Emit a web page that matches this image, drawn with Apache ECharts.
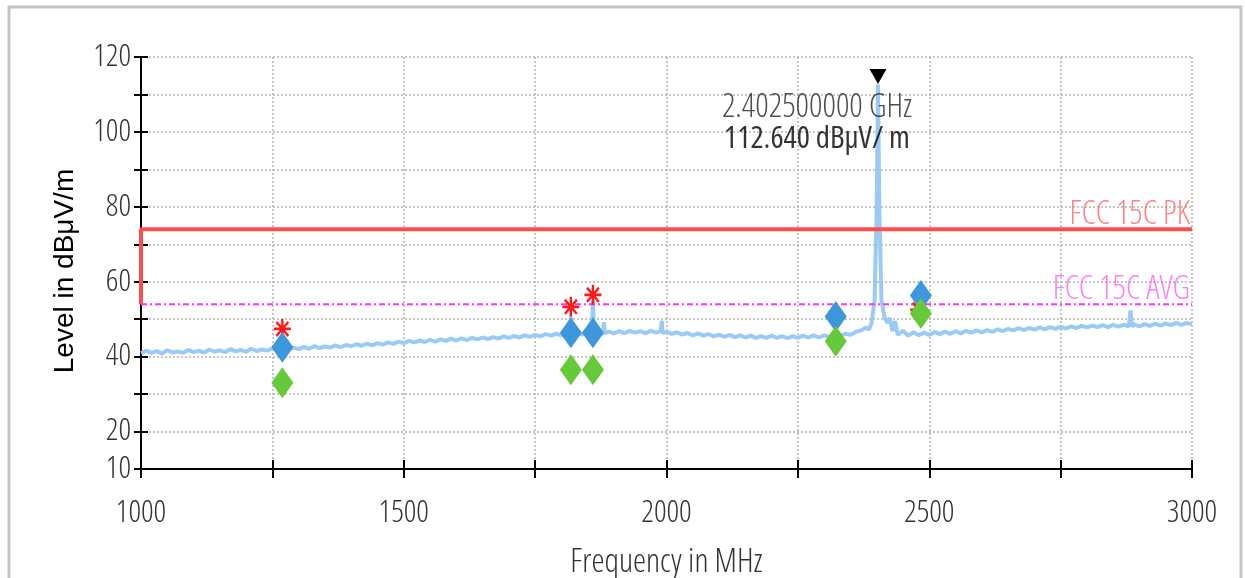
<!DOCTYPE html>
<html>
<head>
<meta charset="utf-8">
<script src="https://cdn.jsdelivr.net/npm/echarts@6/dist/echarts.min.js"></script>
<style>
html,body{margin:0;padding:0;background:#fff;}
#chart{width:1245px;height:578px;}
</style>
</head>
<body>
<div id="chart"></div>
<script>
// ---- data ----
const trace = [
[1000,40.9],[1010,41.6],[1020,41.0],[1030,41.5],[1040,40.8],[1050,41.7],[1060,41.1],[1070,41.4],[1080,41.0],[1090,41.8],
[1100,41.2],[1110,41.6],[1120,41.1],[1130,41.9],[1140,41.3],[1150,41.7],[1160,41.2],[1170,42.0],[1180,41.4],[1190,41.8],
[1200,41.3],[1210,42.1],[1220,41.5],[1230,41.9],[1240,41.6],[1250,42.2],[1260,41.7],[1270,42.6],[1280,41.9],[1290,42.4],
[1300,42.0],[1310,42.6],[1320,42.1],[1330,42.8],[1340,42.3],[1350,42.7],[1360,42.4],[1370,43.0],[1380,42.5],[1390,43.1],
[1400,42.8],[1410,43.3],[1420,42.9],[1430,43.5],[1440,43.0],[1450,43.6],[1460,43.2],[1470,43.8],[1480,43.4],[1490,44.0],
[1500,43.6],[1510,44.2],[1520,43.8],[1530,44.3],[1540,43.9],[1550,44.5],[1560,44.0],[1570,44.6],[1580,44.2],[1590,44.8],
[1600,44.3],[1610,44.9],[1620,44.4],[1630,45.0],[1640,44.6],[1650,45.1],[1660,44.7],[1670,45.2],[1680,44.8],[1690,45.4],
[1700,45.0],[1710,45.5],[1720,45.1],[1730,45.7],[1740,45.3],[1750,45.8],[1760,45.4],[1770,46.0],[1780,45.6],[1790,46.1],
[1800,45.7],[1810,46.3],[1816,46.0],[1818,50.5],[1820,46.0],[1830,46.4],[1840,45.9],[1850,46.5],[1858,46.0],[1860,55.0],
[1862,46.1],[1870,46.6],[1879,46.0],[1881,49.2],[1883,46.2],[1890,46.7],[1900,46.2],[1910,46.8],[1920,46.3],[1930,46.9],
[1940,46.4],[1950,46.8],[1960,46.3],[1970,46.9],[1980,46.4],[1989,46.8],[1991,49.6],[1993,46.3],[2000,46.7],[2010,46.1],
[2020,46.5],[2030,45.9],[2040,46.3],[2050,45.7],[2060,46.2],[2070,45.6],[2080,46.0],[2090,45.4],[2100,45.9],[2110,45.3],
[2120,45.8],[2130,45.2],[2140,45.7],[2150,45.1],[2160,45.6],[2170,45.0],[2180,45.5],[2190,45.0],[2200,45.6],[2210,45.0],
[2220,45.5],[2230,44.9],[2240,45.5],[2250,45.0],[2260,45.6],[2270,45.1],[2280,45.7],[2290,45.1],[2300,45.7],[2310,45.2],
[2320,45.9],[2330,45.4],[2340,46.1],[2350,45.8],[2360,46.6],[2370,47.0],[2380,47.8],[2385,47.2],[2390,48.8],[2396,55.0],
[2400,80.0],[2402.5,112.64],[2405,80.0],[2409,55.0],[2415,50.5],[2420,49.0],[2425,50.3],[2430,46.8],[2435,49.5],[2440,45.8],
[2450,46.9],[2460,45.6],[2470,46.5],[2480,45.7],[2490,46.4],[2500,45.8],[2510,46.6],[2520,46.0],[2530,46.7],[2540,46.1],
[2550,46.8],[2560,46.2],[2570,46.9],[2580,46.4],[2590,47.0],[2600,46.5],[2610,47.1],[2620,46.6],[2630,47.3],[2640,46.8],
[2650,47.4],[2660,47.0],[2670,47.6],[2680,47.1],[2690,47.7],[2700,47.2],[2710,47.8],[2720,47.3],[2730,47.9],[2740,47.4],
[2750,48.0],[2760,47.5],[2770,48.1],[2780,47.6],[2790,48.2],[2800,47.8],[2810,48.3],[2820,47.9],[2830,48.4],[2840,47.9],
[2850,48.5],[2860,48.0],[2870,48.5],[2880,48.1],[2883,52.3],[2886,48.0],[2890,48.6],[2900,48.1],[2910,48.7],[2920,48.2],
[2930,48.8],[2940,48.3],[2950,48.9],[2960,48.4],[2970,49.0],[2980,48.5],[2990,49.0],[3000,48.6]
];
const peakMarks = [[1269,47.4],[1818,53.3],[1860,56.5],[2480,52.5]];
const qpMarks   = [[1269,42.5],[1818,46.4],[1860,46.4],[2322,50.7],[2484,56.3]];
const avgMarks  = [[1269,33.0],[1818,36.5],[1860,36.5],[2322,44.1],[2484,51.5]];
const pkLimit   = [[1000,54],[1000,74],[3000,74]];
const avgLimit  = [[1000,54],[3000,54]];
const maxMarker = [[2402.5,112.64]];
const maxLabelLines = ['2.402500000 GHz','112.640 dBμV/ m'];
const pkLimitName = 'FCC 15C PK';
const avgLimitName = 'FCC 15C AVG';
const yLabelValues = [10,20,40,60,80,100,120];
const xLabelValues = [1000,1500,2000,2500,3000];
const xName = 'Frequency in MHz';
const yName = 'Level in dBμV/m';

// ---- chart ----
const OS = "'Open Sans','Liberation Sans',sans-serif";
const COND = {fontFamily:OS, fontStyle:'condensed', fontWeight:'300'};
const chart = echarts.init(document.getElementById('chart'), null, {renderer:'canvas'});
const gridLine = {show:true, lineStyle:{color:'#b4b4b4', width:1.5, type:[2,2]}};
const asterisk = 'path://M8.6 0H11.4V20H8.6Z M0 8.6H20V11.4H0Z M2 3.9L3.9 2L18 16.1L16.1 18Z M16.1 2L18 3.9L3.9 18L2 16.1Z';

function endText(arr, name, color){
  return {type:'scatter', name:name+' label', data:[arr[arr.length-1]], symbolSize:0, z:8, silent:true,
    label:Object.assign({show:true, position:'inside', align:'right', verticalAlign:'bottom', offset:[-2,2],
      formatter:name, color:color, fontSize:33}, COND)};
}

const option = {
  animation:false,
  backgroundColor:'#fff',
  graphic:[{type:'rect', shape:{x:9,y:7,width:1232,height:620}, style:{fill:'none', stroke:'#c4c4c4', lineWidth:3}, silent:true}],
  grid:{left:141, top:57, width:1051, height:412, containLabel:false, outerBoundsMode:'none'},
  xAxis:[{
    type:'value', min:1000, max:3000, interval:250,
    name:xName, nameLocation:'middle', nameGap:77,
    nameTextStyle:Object.assign({fontSize:33, color:'#333'}, COND),
    axisLine:{show:true, lineStyle:{color:'#000', width:2}},
    axisTick:{show:true, length:9, lineStyle:{color:'#000', width:2}},
    axisLabel:Object.assign({margin:29, fontSize:31, color:'#333',
      formatter:v=> xLabelValues.indexOf(v)>=0 ? String(v) : ''}, COND),
    splitLine:gridLine
  },{
    type:'value', min:1000, max:3000, interval:250, position:'bottom',
    axisLine:{show:false}, axisTick:{show:true, inside:true, length:9, lineStyle:{color:'#000', width:2}},
    axisLabel:{show:false}, splitLine:{show:false}
  }],
  yAxis:[{
    type:'value', min:10, max:120, interval:10, position:'left',
    name:yName, nameLocation:'middle', nameGap:62,
    nameTextStyle:{fontSize:28, color:'#000', fontFamily:"'Liberation Sans',Arial,sans-serif", padding:[0,16,0,0]},
    axisLine:{show:true, lineStyle:{color:'#000', width:2}},
    axisTick:{show:true, length:7, lineStyle:{color:'#000', width:2}},
    axisLabel:Object.assign({margin:10, fontSize:31, color:'#333',
      formatter:v=> yLabelValues.indexOf(v)>=0 ? String(v) : ''}, COND),
    splitLine:gridLine
  },{
    type:'value', min:10, max:120, interval:10, position:'left',
    axisLine:{show:false}, axisTick:{show:true, inside:true, length:7, lineStyle:{color:'#000', width:2}},
    axisLabel:{show:false}, splitLine:{show:false}
  }],
  series:[
    {type:'line', name:'trace', data:trace, symbol:'none', lineStyle:{color:'#9ccaf7', width:4}, z:2},
    {type:'line', name:pkLimitName, data:pkLimit, symbol:'none', lineStyle:{color:'#ff4c4c', width:4}, z:3},
    {type:'line', name:avgLimitName, data:avgLimit, symbol:'none', lineStyle:{color:'#ff33ff', width:2, type:[6,3,2,3]}, z:3},
    endText(pkLimit, pkLimitName, '#ff6464'),
    endText(avgLimit, avgLimitName, '#ff5cff'),
    {type:'scatter', name:'peak', data:peakMarks, symbol:asterisk, symbolSize:[17,20], itemStyle:{color:'#ff1a1a', opacity:1}, z:4},
    {type:'scatter', name:'qp', data:qpMarks, symbol:'diamond', symbolSize:[22,31], itemStyle:{color:'#3d97dd', opacity:1}, z:5},
    {type:'scatter', name:'avg', data:avgMarks, symbol:'diamond', symbolSize:[22,31], itemStyle:{color:'#66c93a', opacity:1}, z:6},
    {type:'scatter', name:'max', data:maxMarker, symbol:'path://M0 0L17 0L8.5 15Z', symbolSize:[17,15], symbolOffset:[0,-8],
      itemStyle:{color:'#000', opacity:1}, z:7},
    {type:'scatter', name:'maxLabel', data:maxMarker, symbolSize:0, z:7, silent:true,
      label:{show:true, position:'inside', offset:[-61,39], align:'center', verticalAlign:'middle',
        formatter:'{a|'+maxLabelLines[0]+'}\n{b|'+maxLabelLines[1]+'}',
        rich:{a:Object.assign({fontSize:33, color:'#222', lineHeight:31, align:'center'}, COND),
              b:Object.assign({fontSize:31, color:'#000', lineHeight:31, align:'center'}, COND, {fontWeight:'normal'})}}}
  ]
};
chart.setOption(option);
</script>
</body>
</html>
